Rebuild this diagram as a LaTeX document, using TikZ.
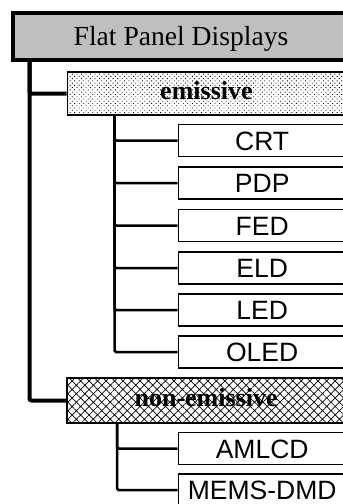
\documentclass[tikz,border=0pt]{standalone}
\usepackage{fontspec}
\setmainfont{Liberation Serif}
\newfontfamily\leaffont{Liberation Sans}
\usetikzlibrary{patterns.meta}

\begin{document}
\begin{tikzpicture}[
    x=1pt, y=-1pt,
    header/.style={
        draw=black, line width=4pt, fill=gray!50, rectangle, anchor=west,
        minimum width=337pt, minimum height=47.5pt, inner sep=0pt,
        text height=18pt, text depth=0pt,
        font=\fontsize{27.6}{30}\selectfont
    },
    group/.style={
        draw=black, line width=1.4pt, rectangle, anchor=west,
        minimum width=278.5pt, inner sep=0pt,
        text height=12pt, text depth=0pt,
        font=\bfseries\fontsize{26}{28}\selectfont
    },
    groupA/.style={group, minimum height=43pt,
        pattern={Dots[radius=0.6pt, distance=3.2pt, angle=45]}},
    groupB/.style={group, minimum height=45pt,
        pattern={Hatch[angle=45, distance=6pt, line width=0.7pt]}},
    leaf/.style={
        draw=black, line width=1.4pt, rectangle, anchor=west, fill=white,
        minimum width=168pt, minimum height=32pt, inner sep=0pt,
        text height=19pt, text depth=0pt,
        font=\leaffont\fontsize{26.5}{28}\selectfont
    },
    trunk/.style={draw, line width=4pt, rounded corners=2pt},
    branch/.style={draw, line width=2.5pt, rounded corners=1.5pt}
]
\useasboundingbox (0,0) rectangle (343,504);

% ===== Header =====
\node[header] (fpd) at (10.5,36.25) {Flat Panel Displays};

% ===== Groups =====
\node[groupA] (emis) at (66.5,93.5) {emissive};
\node[groupB] (nonemis) at (66.5,400.5) {non-emissive};

\coordinate (t0) at (29.5,60);
\draw[trunk] (t0) |- (emis.west);
\draw[trunk] (t0) |- (nonemis.west);

% ===== Emissive leaves =====
\coordinate (e0) at (114.5,115);
\foreach \name/\txt/\y in {crt/CRT/140.5, pdp/PDP/183, fed/FED/225.5,
                           eld/ELD/268, led/LED/310, oled/OLED/352} {
    \node[leaf] (\name) at (177.5,\y) {\txt};
    \draw[branch] (e0) |- (\name.west);
}

% ===== Non-emissive leaves =====
\coordinate (n0) at (117,423);
\foreach \name/\txt/\y in {amlcd/AMLCD/448.5, mems/MEMS-DMD/490} {
    \node[leaf] (\name) at (177.5,\y) {\txt};
    \draw[branch] (n0) |- (\name.west);
}

\end{tikzpicture}
\end{document}
